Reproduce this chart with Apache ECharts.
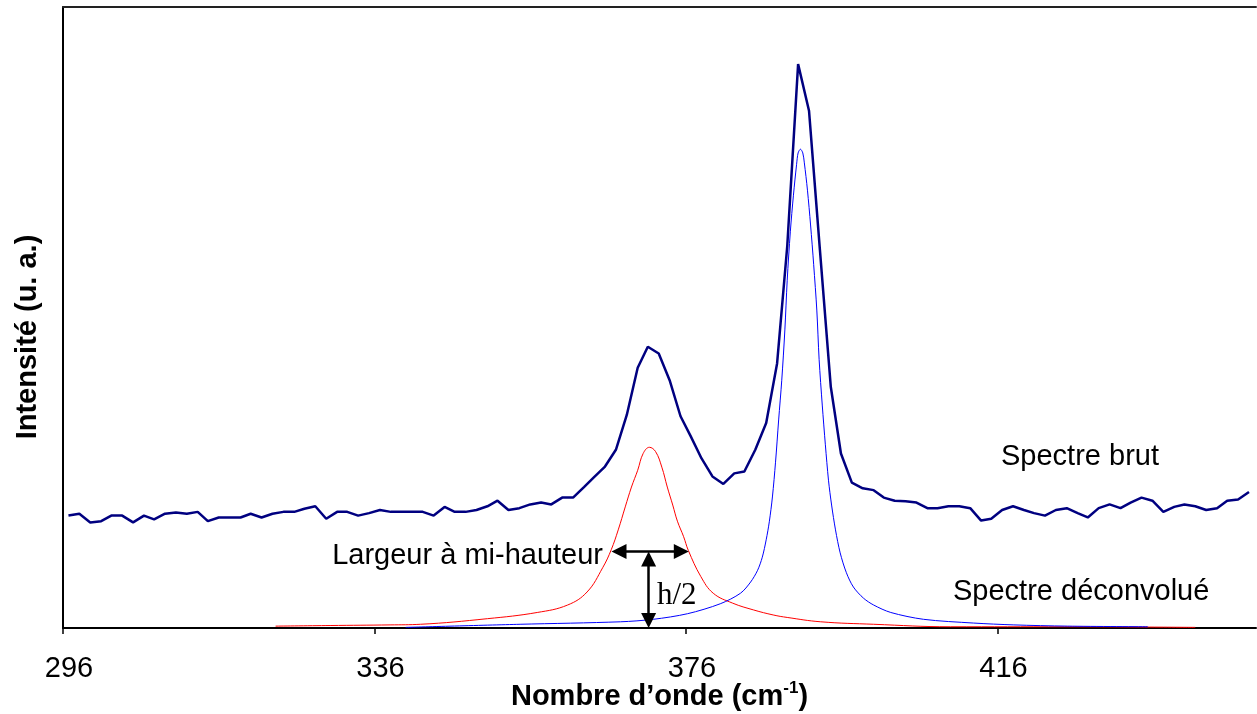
<!DOCTYPE html>
<html>
<head>
<meta charset="utf-8">
<title>Spectre brut et déconvolué</title>
<script src="https://cdn.jsdelivr.net/npm/echarts@6/dist/echarts.min.js"></script>
<style>
  html, body { margin: 0; padding: 0; background: #fff; }
  #chart { width: 1257px; height: 714px; }
</style>
</head>
<body>
<div id="chart"></div>
<script>
// spectre brut : nombre d'onde (cm-1) et intensite (u. a.)
var waveBrut = [
  296.7, 298.1, 299.5, 300.9, 302.2, 303.6, 305.0, 306.4, 307.7, 309.1,
  310.5, 311.9, 313.3, 314.6, 316.0, 317.4, 318.8, 320.1, 321.5, 322.9,
  324.3, 325.7, 327.0, 328.4, 329.8, 331.2, 332.5, 333.9, 335.3, 336.7,
  338.1, 339.4, 340.8, 342.2, 343.6, 345.0, 346.3, 347.7, 349.1, 350.5,
  351.8, 353.2, 354.6, 356.0, 357.4, 358.7, 360.1, 361.5, 362.9, 364.2,
  365.6, 367.0, 368.4, 369.8, 371.1, 372.5, 373.9, 375.3, 376.6, 378.0,
  379.4, 380.8, 382.2, 383.5, 384.9, 386.3, 387.7, 389.0, 390.4, 391.8,
  393.2, 394.6, 395.9, 397.3, 398.7, 400.1, 401.4, 402.8, 404.2, 405.6,
  407.0, 408.3, 409.7, 411.1, 412.5, 413.9, 415.2, 416.6, 418.0, 419.4,
  420.7, 422.1, 423.5, 424.9, 426.3, 427.6, 429.0, 430.4, 431.8, 433.1,
  434.5, 435.9, 437.3, 438.7, 440.0, 441.4, 442.8, 444.2, 445.5, 446.9,
  448.3
];
var intBrut = [
  181, 184, 170, 172, 181, 181, 170, 181, 175, 184,
  186, 184, 187, 172, 178, 178, 178, 184, 178, 184,
  187, 187, 192, 196, 176, 187, 187, 181, 185, 190,
  187, 187, 187, 187, 181, 195, 187, 187, 190, 196,
  205, 190, 193, 199, 202, 199, 210, 210, 227, 243,
  260, 287, 343, 419, 453, 442, 399, 341, 309, 273,
  244, 232, 249, 252, 287, 330, 426, 614, 908, 833,
  609, 388, 281, 234, 225, 222, 210, 205, 204, 202,
  193, 193, 196, 196, 193, 173, 176, 190, 196, 190,
  185, 181, 190, 193, 185, 178, 193, 199, 193, 202,
  210, 205, 187, 195, 199, 196, 190, 193, 205, 207,
  219
];

// pic deconvolue a ~371 cm-1 (rouge)
var waveRouge = [
  323.3, 330.3, 338.0, 341.9, 350.5, 356.9, 360.8, 363.3, 365.3, 366.4,
  367.3, 368.2, 369.0, 369.8, 370.5, 371.3, 372.1, 372.9, 373.6, 374.3,
  374.9, 375.7, 376.3, 377.9, 379.5, 382.0, 384.7, 387.2, 389.0, 393.3,
  400.1, 410.0, 424.6, 441.4
];
var intRouge = [
  3, 4, 5, 6, 15, 25, 37, 58, 97, 126,
  158, 195, 227, 254, 281, 291, 284, 259, 227, 198,
  172, 147, 125, 83, 56, 40, 29, 21, 17, 10,
  6, 2, 2, 1
];

// pic deconvolue a ~391 cm-1 (bleu)
var waveBleu = [
  340.0, 354.7, 367.6, 371.8, 376.2, 380.4, 383.0, 384.3, 385.2, 385.8,
  386.3, 386.7, 387.1, 387.5, 387.9, 388.3, 388.7, 389.0, 389.4, 389.8,
  390.2, 390.4, 390.7, 391.0, 391.2, 391.6, 392.0, 392.4, 392.8, 393.1,
  393.5, 393.9, 394.3, 394.7, 395.2, 395.8, 396.6, 397.5, 398.8, 400.1,
  402.3, 406.5, 412.9, 418.1, 425.0, 435.3
];
var intBleu = [
  1, 6, 10, 14, 23, 39, 56, 74, 93, 114,
  142, 171, 211, 267, 335, 399, 480, 560, 638, 697,
  746, 765, 771, 765, 749, 705, 649, 585, 512, 432,
  359, 295, 238, 198, 158, 121, 89, 66, 48, 37,
  25, 14, 8, 5, 3, 2
];

var tickLabels = [296, 336, 376, 416];

// fleches largeur a mi-hauteur / h/2 (coordonnees en donnees)
var largeurX = [367.4, 375.4];
var largeurY = 123;
var hauteurX = 371.2;
var hauteurY = [111, 12];

var sans = '"Liberation Sans", Arial, sans-serif';
var serif = '"Liberation Serif", "Times New Roman", serif';

function zip(xs, ys) {
  return xs.map(function (x, i) { return [x, ys[i]]; });
}

var myChart = echarts.init(document.getElementById('chart'));

var option = {
  animation: false,
  backgroundColor: '#fff',
  grid: { left: 63, right: 1, top: 7, bottom: 86, outerBoundsMode: 'none' },
  xAxis: [{
    type: 'value',
    min: 296,
    max: 449.2,
    interval: 40,
    name: '{t|Nombre d\u2019onde (cm}{s|-1}{t|)}',
    nameLocation: 'middle',
    nameGap: 52,
    nameMoveOverlap: false,
    nameTextStyle: {
      rich: {
        t: { fontSize: 29, fontWeight: 'bold', fontFamily: sans, color: '#000' },
        s: { fontSize: 17, fontWeight: 'bold', fontFamily: sans, color: '#000',
             padding: [0, 0, 17, 0] }
      }
    },
    axisLine: { show: true, lineStyle: { color: '#000', width: 2 } },
    axisTick: { show: true, customValues: tickLabels, length: 6,
                lineStyle: { color: '#000', width: 1.5 } },
    axisLabel: { customValues: tickLabels, fontSize: 29, fontFamily: sans,
                 color: '#000', margin: 26, padding: [0, 0, 0, 12] },
    splitLine: { show: false }
  }, {
    type: 'value',
    position: 'top',
    min: 296,
    max: 449.2,
    axisLine: { show: true, lineStyle: { color: '#222', width: 2 } },
    axisTick: { show: false },
    axisLabel: { show: false },
    splitLine: { show: false }
  }],
  yAxis: {
    type: 'value',
    min: 0,
    max: 1000,
    axisLine: { show: true, lineStyle: { color: '#000', width: 2 } },
    axisTick: { show: false },
    axisLabel: { show: false },
    splitLine: { show: false }
  },
  series: [{
    name: 'Spectre deconvolue 1',
    type: 'line',
    data: zip(waveRouge, intRouge),
    showSymbol: false,
    smooth: 0.4,
    lineStyle: { color: '#ff0000', width: 1 },
    z: 2,
    markLine: {
      silent: true,
      symbol: ['triangle', 'triangle'],
      symbolSize: 15,
      label: { show: false },
      lineStyle: { color: '#000', width: 2.5, type: 'solid' },
      data: [
        [{ coord: [largeurX[0], largeurY] }, { coord: [largeurX[1], largeurY] }],
        [{ coord: [hauteurX, hauteurY[0]] }, { coord: [hauteurX, hauteurY[1]] }]
      ]
    }
  }, {
    name: 'Spectre deconvolue 2',
    type: 'line',
    data: zip(waveBleu, intBleu),
    showSymbol: false,
    smooth: 0.3,
    lineStyle: { color: '#0000ff', width: 1 },
    z: 2
  }, {
    name: 'Spectre brut',
    type: 'line',
    data: zip(waveBrut, intBrut),
    showSymbol: false,
    lineStyle: { color: '#000080', width: 2.5 },
    z: 3
  }],
  graphic: [
    { type: 'text', x: 28, y: 337, rotation: Math.PI / 2,
      style: { text: 'Intensité (u. a.)', font: 'bold 29px ' + sans, fill: '#000',
               align: 'center', verticalAlign: 'middle' } },
    { type: 'text', x: 603, y: 556,
      style: { text: 'Largeur à mi-hauteur', font: '29px ' + sans, fill: '#000',
               align: 'right', verticalAlign: 'middle' } },
    { type: 'text', x: 657, y: 596,
      style: { text: 'h/2', font: '31px ' + serif, fill: '#000',
               align: 'left', verticalAlign: 'middle' } },
    { type: 'text', x: 1001, y: 457,
      style: { text: 'Spectre brut', font: '29px ' + sans, fill: '#000',
               align: 'left', verticalAlign: 'middle' } },
    { type: 'text', x: 953, y: 592,
      style: { text: 'Spectre déconvolué', font: '29px ' + sans, fill: '#000',
               align: 'left', verticalAlign: 'middle' } }
  ]
};

myChart.setOption(option);

window.addEventListener('resize', function () {
  myChart.resize();
});
</script>
</body>
</html>
